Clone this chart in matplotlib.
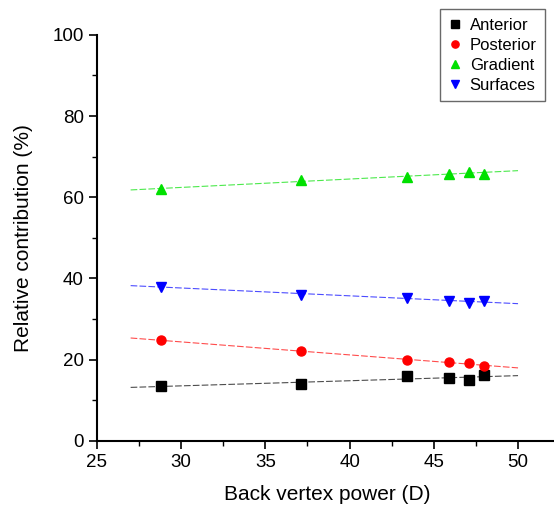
import numpy as np
import matplotlib.pyplot as plt
from matplotlib.ticker import MultipleLocator

plt.rcParams['font.family'] = ['Liberation Sans', 'DejaVu Sans']

# Back vertex power (D)
power = [28.8, 37.1, 43.4, 45.9, 47.1, 48.0]

# Relative contribution (%)
anterior = [13.5, 14.0, 16.0, 15.4, 15.0, 16.2]
posterior = [24.8, 22.1, 19.8, 19.3, 19.2, 18.5]
gradient = [62.0, 64.2, 65.0, 65.8, 66.3, 65.7]
surfaces = [38.0, 36.0, 35.3, 34.5, 34.0, 34.5]

series = [
    ('Anterior', anterior, 's', 'black'),
    ('Posterior', posterior, 'o', 'red'),
    ('Gradient', gradient, '^', '#00e000'),
    ('Surfaces', surfaces, 'v', 'blue'),
]

fig = plt.figure(figsize=(5.54, 5.12), dpi=100)
ax = fig.add_axes([0.175, 0.139, 0.83, 0.793])

fit_x = np.array([27, 50])
handles = []
for name, vals, marker, color in series:
    h, = ax.plot(power, vals, linestyle='none', marker=marker, color=color,
                 markersize=6.5, label=name)
    handles.append(h)
    # linear fit for each series
    slope, intercept = np.polyfit(power, vals, 1)
    ax.plot(fit_x, slope * fit_x + intercept, color=color, linestyle=(0, (6, 2)),
            linewidth=0.8, alpha=0.7)

ax.set_xlim(25, 52.3)
ax.set_ylim(0, 100)
ax.xaxis.set_major_locator(MultipleLocator(5))
ax.xaxis.set_minor_locator(MultipleLocator(2.5))
ax.yaxis.set_major_locator(MultipleLocator(20))
ax.yaxis.set_minor_locator(MultipleLocator(10))
ax.spines['top'].set_visible(False)
ax.spines['right'].set_visible(False)
ax.spines['left'].set_linewidth(1.5)
ax.spines['bottom'].set_linewidth(1.5)
ax.tick_params(which='major', length=6, width=1.2, labelsize=13.5)
ax.tick_params(which='minor', length=3.5, width=1.0)

ax.set_xlabel('Back vertex power (D)', fontsize=15, labelpad=10)
ax.set_ylabel('Relative contribution (%)', fontsize=15, labelpad=14)

leg = fig.legend(handles=handles, loc='upper right', bbox_to_anchor=(0.999, 0.998),
                 fontsize=12, fancybox=False, edgecolor='#444444', handlelength=0.8,
                 handletextpad=0.5, markerscale=0.8, borderpad=0.5, labelspacing=0.3)
leg.get_frame().set_linewidth(1.0)

plt.savefig('out.png', dpi=100)
